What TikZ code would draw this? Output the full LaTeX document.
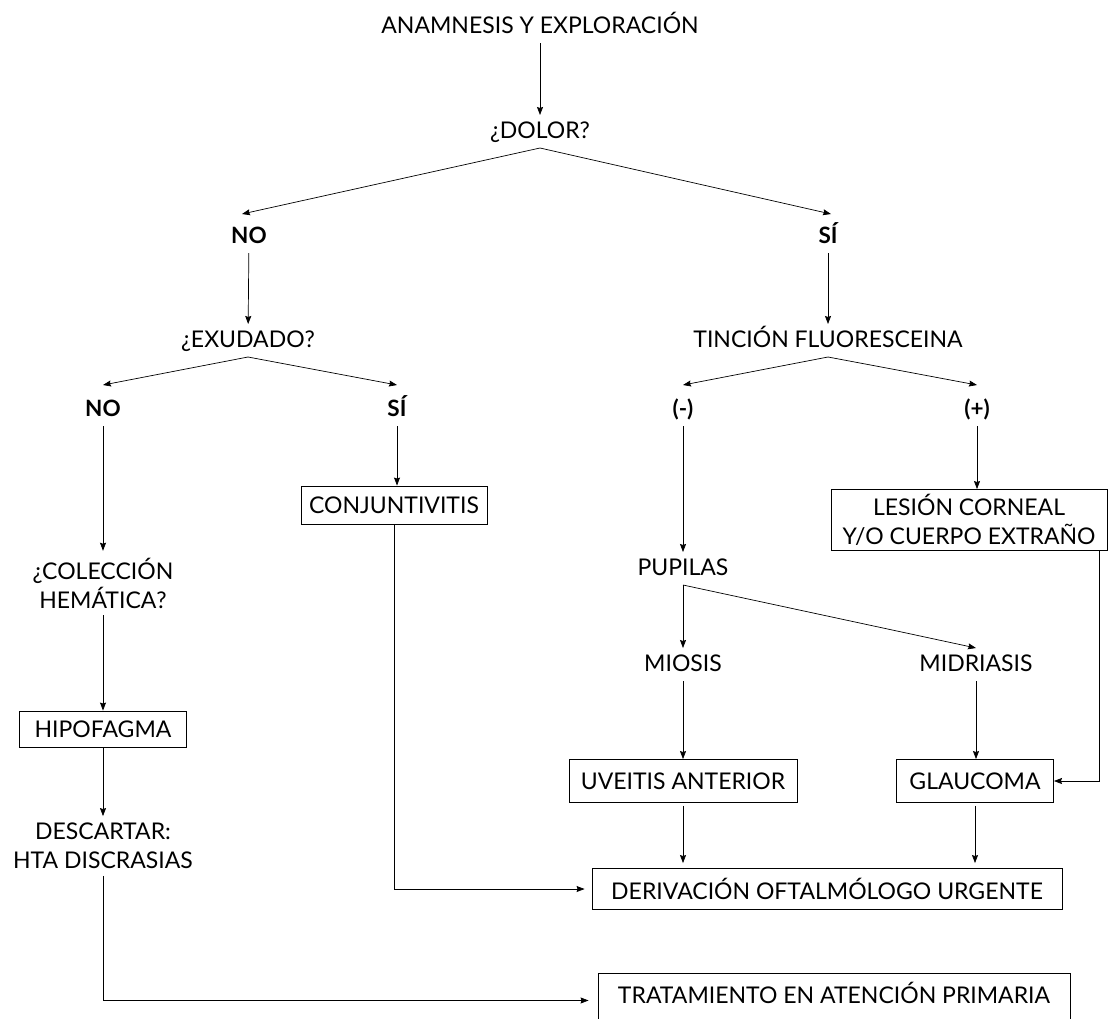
\documentclass[tikz,border=0pt]{standalone}
\usepackage{fontspec}
\setmainfont{Lato}
\usetikzlibrary{arrows.meta,calc}
\begin{document}
\begin{tikzpicture}[x=1pt,y=-1pt,
  every node/.style={font=\fontsize{23}{29}\selectfont},
  lbl/.style={inner sep=0pt, outer sep=7pt, text height=16pt, text depth=3pt, anchor=base},
  blbl/.style={lbl, font=\fontsize{22.5}{29}\selectfont\bfseries},
  mlbl/.style={align=center, inner sep=0pt, outer sep=7pt},
  box/.style={draw, line width=0.9pt, inner sep=0pt, anchor=center},
  arr/.style={-{Stealth[length=8pt,width=6pt,inset=1pt]}, line width=0.7pt}
]
\useasboundingbox (0,0) rectangle (1110,1018);
\clip (0,0) rectangle (1110,1018);

\node[lbl] (ana) at (540,33) {ANAMNESIS Y EXPLORACIÓN};
\node[lbl] (dol) at (540,138) {¿DOLOR?};
\node[blbl] (no1) at (249,243) {NO};
\node[blbl] (si1) at (828,243) {SÍ};
\node[lbl] (exu) at (248,347) {¿EXUDADO?};
\node[lbl] (tin) at (828,347) {TINCIÓN FLUORESCEINA};
\node[blbl] (no2) at (103,416) {NO};
\node[blbl] (si2) at (397,416) {SÍ};
\node[blbl] (neg) at (683,416) {(-)};
\node[blbl] (pos) at (977,416) {(+)};
\node[box, minimum width=186pt, minimum height=38pt] (conj) at (394,505) {CONJUNTIVITIS};
\node[box, minimum width=276pt, minimum height=61pt, align=center] (les) at (969,520) {LESIÓN CORNEAL\\Y/O CUERPO EXTRAÑO};
\node[mlbl] (col) at (103,583) {¿COLECCIÓN\\HEMÁTICA?};
\node[lbl] (pup) at (683,575) {PUPILAS};
\node[lbl] (mio) at (683,671) {MIOSIS};
\node[lbl] (mid) at (976,671) {MIDRIASIS};
\node[box, minimum width=167pt, minimum height=36pt] (hip) at (103,729) {HIPOFAGMA};
\node[box, minimum width=228pt, minimum height=43pt] (uve) at (683,781) {UVEITIS ANTERIOR};
\node[box, minimum width=157pt, minimum height=43pt] (gla) at (975,781) {GLAUCOMA};
\node[mlbl] (des) at (103,846) {DESCARTAR:\\HTA DISCRASIAS};
\node[box, minimum width=470pt, minimum height=41pt] (der) at (827,889) {DERIVACIÓN OFTALMÓLOGO URGENTE};
\node[box, minimum width=472pt, text height=30pt, text depth=40pt, anchor=base] (tra) at (834,1003) {TRATAMIENTO EN ATENCIÓN PRIMARIA};

\draw[arr] (ana) -- (dol);
\draw[arr] (dol.south) -- ([shift={(-7pt,6pt)}]no1.north);
\draw[arr] (dol.south) -- ([shift={(3pt,6pt)}]si1.north);
\draw[arr] (no1) -- (exu);
\draw[arr] (si1) -- (tin);
\draw[arr] (exu.south) -- ([yshift=8pt]no2.north);
\draw[arr] (exu.south) -- ([yshift=8pt]si2.north);
\draw[arr] (tin.south) -- ([yshift=8pt]neg.north);
\draw[arr] (tin.south) -- ([yshift=8pt]pos.north);
\draw[arr] (no2) -- (col);
\draw[arr] (si2.south) -- (si2.south |- conj.north);
\draw[arr] (neg) -- (pup);
\draw[arr] (pos.south) -- (pos.south |- les.north);
\draw[arr] (pup.south) -- (mio.north);
\draw[arr] (pup.south) -- (mid.north);
\draw[arr] (col) -- (hip);
\draw[arr] (hip) -- (des);
\draw[arr] (mio) -- (uve);
\draw[arr] (mid.south) -- (mid.south |- gla.north);
\draw[arr, shorten <=3pt, shorten >=5pt] (uve.south) -- (uve.south |- der.north);
\draw[arr, shorten <=3pt, shorten >=5pt] (gla.south) -- (gla.south |- der.north);
\draw[arr] ([xshift=-8pt]les.south east) |- (gla.east);
\draw[arr, shorten >=7pt] (conj.south) |- (der.west);
\draw[arr, shorten >=9pt] (des.south) |- (tra.mid west);
\end{tikzpicture}
\end{document}
